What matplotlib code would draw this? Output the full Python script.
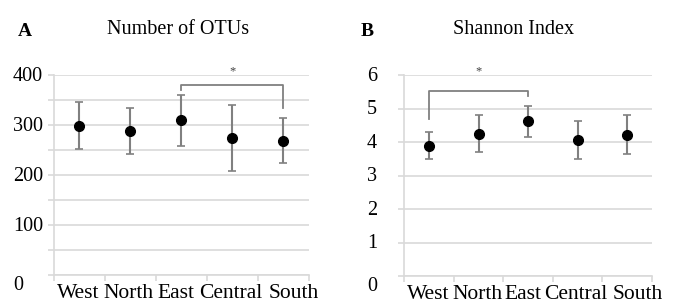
import numpy as np
import matplotlib.pyplot as plt
from matplotlib.transforms import ScaledTranslation, blended_transform_factory

# -------------------------
# Data
# -------------------------
regions = ["West", "North", "East", "Central", "South"]

otu_mean = [299, 289, 310, 275, 269]
otu_upper = [347, 335, 361, 341, 314]
otu_lower = [252, 243, 259, 208, 224]

shannon_mean = [3.90, 4.26, 4.62, 4.06, 4.23]
shannon_upper = [4.32, 4.81, 5.08, 4.62, 4.81]
shannon_lower = [3.50, 3.70, 4.17, 3.50, 3.64]

# bracket: (left idx, right idx, top, left leg end, right leg end, star y)
otu_bracket = (2, 4, 380, 370, 335, 407)
shannon_bracket = (0, 2, 5.54, 4.69, 5.38, 6.13)

plt.rcParams['font.family'] = ['Liberation Serif', 'DejaVu Serif']

GRID = "#d9d9d9"
ERR = "#808080"
# small horizontal nudges (points) of the category labels, as in the original
XLAB_SHIFT = [-1, -1, -4, -1, 7.5]


def panel(fig, ax, mean, upper, lower, ymax, grid_step, label_step,
          bracket, label_x):
    x = np.arange(len(regions))
    mean = np.array(mean)
    yerr = [mean - np.array(lower), np.array(upper) - mean]
    ax.errorbar(x, mean, yerr=yerr, fmt="o", color="black", ms=7,
                ecolor=ERR, elinewidth=1.5, capsize=3, capthick=1.2, zorder=3)

    ax.set_xlim(-0.5, len(regions) - 0.5)
    ax.set_ylim(0, ymax)

    # gridlines with short ticks outside the spine (Excel look)
    ax.set_yticks(np.arange(0, ymax + grid_step / 2, grid_step))
    ax.set_yticklabels([])
    ax.grid(axis="y", color=GRID, lw=1.2, zorder=0)
    ax.tick_params(axis="y", length=4, color=GRID, width=1.2)

    # left-aligned value labels, "0" sits a bit lower
    trans = blended_transform_factory(fig.transFigure, ax.transData)
    for v in np.arange(0, ymax + label_step / 2, label_step):
        dy = -0.10 if v == 0 else -0.01
        ax.text(label_x, v, f"{v:g}", ha="left", va="center", fontsize=14.5,
                transform=trans + ScaledTranslation(0, dy, fig.dpi_scale_trans))

    # category labels
    ax.set_xticks(x)
    ax.set_xticklabels([])
    for i, (name, dx) in enumerate(zip(regions, XLAB_SHIFT)):
        ax.annotate(name, (i, 0), xytext=(dx, -6.5), textcoords="offset points",
                    ha="center", va="top", fontsize=15.5,
                    annotation_clip=False)
    ax.set_xticks(np.arange(-0.5, len(regions)), minor=True)
    ax.tick_params(axis="x", which="major", length=0)
    ax.tick_params(axis="x", which="minor", length=4, color=GRID, width=1.2)

    for s in ["top", "right"]:
        ax.spines[s].set_visible(False)
    for s in ["left", "bottom"]:
        ax.spines[s].set_color(GRID)
        ax.spines[s].set_linewidth(1.2)

    i, j, top, leg_l, leg_r, star_y = bracket
    ax.plot([i, i, j, j], [leg_l, top, top, leg_r], color=ERR, lw=1.3,
            clip_on=False, zorder=2)
    ax.text((i + j) / 2, star_y, "*", ha="center", va="center",
            fontsize=9, color="#404040", clip_on=False)


fig = plt.figure(figsize=(6.74, 3.03), dpi=100)

ax1 = fig.add_axes([0.080, 0.0924, 0.378, 0.660])
panel(fig, ax1, otu_mean, otu_upper, otu_lower, 400, 50, 100, otu_bracket,
      13 / 674)

ax2 = fig.add_axes([0.600, 0.089, 0.367, 0.6625])
panel(fig, ax2, shannon_mean, shannon_upper, shannon_lower, 6, 1, 1,
      shannon_bracket, 367 / 674)

fig.text(18 / 674, 1 - 31 / 303, "A", fontsize=14, fontweight="bold",
         ha="left", va="center")
fig.text(178 / 674, 1 - 30 / 303, "Number of OTUs", fontsize=14.5,
         ha="center", va="center")
fig.text(361 / 674, 1 - 31 / 303, "B", fontsize=14, fontweight="bold",
         ha="left", va="center")
fig.text(514 / 674, 1 - 30 / 303, "Shannon Index", fontsize=14.5,
         ha="center", va="center")

fig.savefig("out.png", dpi=100)
